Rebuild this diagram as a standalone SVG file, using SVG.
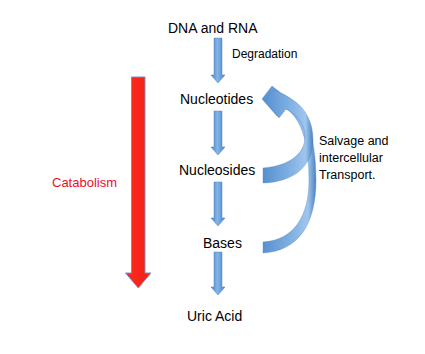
<svg xmlns="http://www.w3.org/2000/svg" width="425" height="354" viewBox="0 0 425 354">
<defs>
<linearGradient id="gStraight" x1="0" y1="0" x2="1" y2="0">
<stop offset="0" stop-color="#3f7fc6"/>
<stop offset="0.45" stop-color="#86b5e6"/>
<stop offset="1" stop-color="#4482c8"/>
</linearGradient>
<linearGradient id="gCurve" x1="0" y1="0" x2="1" y2="0">
<stop offset="0" stop-color="#5690d0"/>
<stop offset="0.6" stop-color="#86b4e4"/>
<stop offset="0.85" stop-color="#a0c6ee"/>
<stop offset="1" stop-color="#4a81c2"/>
</linearGradient>
<linearGradient id="gRed" x1="0" y1="0" x2="1" y2="0">
<stop offset="0" stop-color="#ff2a1c"/>
<stop offset="1" stop-color="#f0201a"/>
</linearGradient>
</defs>
<style>
.lbl{font-family:"Liberation Sans",Arial,sans-serif;font-size:14px;fill:#000}
.small{font-family:"Liberation Sans",Arial,sans-serif;font-size:12px;fill:#000}
.side{font-family:"Liberation Sans",Arial,sans-serif;font-size:12.5px;fill:#000}
.cat{font-family:"Liberation Sans",Arial,sans-serif;font-size:13px;fill:#e8112d}
.blue{fill:url(#gStraight);stroke:#4f86c8;stroke-width:0.5}
.curve{fill:url(#gCurve);stroke:#4f81bd;stroke-width:0.6;stroke-opacity:0.6}
.red{fill:url(#gRed);stroke:#7f8fc4;stroke-width:1}
</style>
<rect width="425" height="354" fill="#ffffff"/>
<g id="catabolism">
<path class="red" d="M131.5,77 H145 V273 H151 L138.25,288 L125.5,273 H131.5 Z"/>
<text class="cat" x="52" y="187">Catabolism</text>
</g>
<g id="connectors">
<path class="blue" d="M214,38 H222 V75 H225 L218,83 L211,75 H214 Z"/>
<text class="small" x="232" y="58">Degradation</text>
<path class="blue" d="M214,111 H222 V147 H225 L218,155 L211,147 H214 Z"/>
<path class="blue" d="M214,182 H222 V218 H225 L218,226 L211,218 H214 Z"/>
<path class="blue" d="M214,252 H222 V287 H225 L218,295 L211,287 H214 Z"/>
<path class="curve" d="M263,253 C298,251 316,225 316,180 C316,135 305,104 281,93 L272,86 L262,99 L277,116 L283,107 C300,115 309,140 309,180 C309,215 295,240 263,242 Z"/>
<path class="curve" d="M263,183 C295,182 313,165 313,140 C313,118 302,103 284,95 L274,89 L265,101 L279,118 L286,109 C298,115 305,125 305,137 C305,153 290,166 263,168 Z"/>
</g>
<g id="dna-rna"><text class="lbl" x="168" y="33">DNA and RNA</text></g>
<g id="nucleotides"><text class="lbl" x="180" y="104">Nucleotides</text></g>
<g id="nucleosides"><text class="lbl" x="179" y="175">Nucleosides</text></g>
<g id="bases"><text class="lbl" x="203" y="248">Bases</text></g>
<g id="uric-acid"><text class="lbl" x="187" y="321">Uric Acid</text></g>
<g id="salvage">
<text class="side" x="319" y="145">Salvage and</text>
<text class="side" x="319" y="162">intercellular</text>
<text class="side" x="319" y="179">Transport.</text>
</g>
</svg>
